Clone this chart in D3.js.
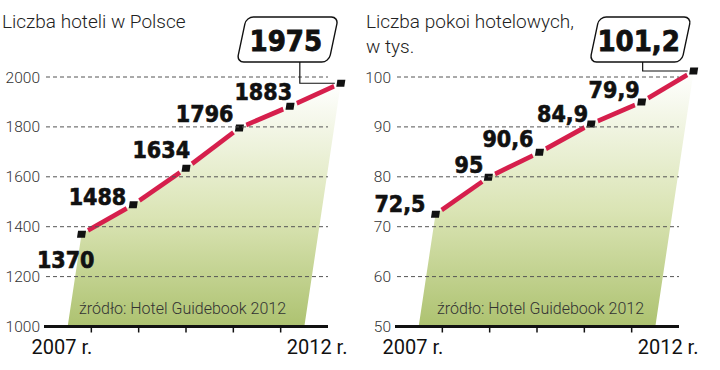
<!DOCTYPE html>
<html>
<head>
<meta charset="utf-8">
<script src="https://cdn.jsdelivr.net/npm/d3@7"></script>
<style>
  body { margin: 0; background: #fff; }
  .title { font-family: Roboto, "Liberation Sans", sans-serif; font-weight: 300; font-size: 19px; fill: #222; }
  .tickLabel { font-family: Roboto, "Liberation Sans", sans-serif; font-weight: 300; font-size: 15.5px; fill: #333; }
  .yearLabel { font-family: Roboto, "Liberation Sans", sans-serif; font-weight: 400; font-size: 20px; fill: #111; }
  .source { font-family: Roboto, "Liberation Sans", sans-serif; font-weight: 300; font-size: 16px; fill: #333; }
  .valueLabel { font-family: "DejaVu Sans Condensed", "DejaVu Sans", sans-serif; font-stretch: condensed; font-weight: bold; font-size: 23px; fill: #111; stroke: #111; stroke-width: 0.6; }
  .calloutLabel { font-size: 29px; stroke-width: 0.8; }
  .grid { stroke: #555; stroke-width: 1; stroke-dasharray: 4 3; }
</style>
</head>
<body>
<div id="chart"></div>
<script>
// data
const years = [2007, 2008, 2009, 2010, 2011, 2012];
const hotels = [1370, 1488, 1634, 1796, 1883, 1975];
const hotelLabels = ["1370", "1488", "1634", "1796", "1883", "1975"];
const hotelTicks = [1000, 1200, 1400, 1600, 1800, 2000];
const rooms = [72.5, 79.9, 84.9, 90.6, 95, 101.2];
const roomLabels = ["72,5", "95", "90,6", "84,9", "79,9", "101,2"];
const roomTicks = [50, 60, 70, 80, 90, 100];
const source = "źródło: Hotel Guidebook 2012";

const width = 720, height = 370;
const svg = d3.select("#chart").append("svg")
    .attr("width", width)
    .attr("height", height);

const grad = svg.append("defs").append("linearGradient")
    .attr("id", "fillGrad")
    .attr("x1", 0).attr("x2", 0).attr("y1", 1).attr("y2", 0);
grad.append("stop").attr("offset", "0%").attr("stop-color", "#adc270");
grad.append("stop").attr("offset", "45%").attr("stop-color", "#dae4b4");
grad.append("stop").attr("offset", "100%").attr("stop-color", "#ffffff");

const SKEW = 0.15;   // the plot is drawn leaning to the right

/**
 * Draws one panel: titles, grid, skewed area + line, labels and callout
 */
function drawPanel(opt) {
    const base = 326.5, top = 77;
    const y = d3.scaleLinear().domain(d3.extent(opt.ticks)).range([base, top]);
    const x = d3.scaleBand().domain(opt.years).range([opt.x0, opt.x1]);
    const cx = (d) => x(d) + x.bandwidth() / 2;
    // screen position of a data point once the skew is applied
    const sx = (xx, yy) => xx + SKEW * (base - yy);

    const g = svg.append("g");

    // title
    const title = g.append("text").attr("class", "title").attr("x", opt.titleX).attr("y", 28);
    opt.title.forEach((t, i) => {
        title.append("tspan").attr("x", opt.titleX).attr("dy", i == 0 ? 0 : 25).text(t);
    });

    // skewed area
    const skewDeg = -Math.atan(SKEW) * 180 / Math.PI;
    const sk = g.append("g")
        .attr("transform", `translate(0,${base}) skewX(${skewDeg}) translate(0,${-base})`);

    const area = d3.area()
        .x((d, i) => cx(opt.years[i]))
        .y0(base)
        .y1((d) => y(d));
    sk.append("path")
        .datum(opt.values)
        .attr("d", area)
        .attr("fill", "url(#fillGrad)");

    // grid lines (over the fill)
    g.selectAll(".grid")
        .data(opt.ticks.slice(1))
        .enter().append("line")
        .attr("class", "grid")
        .attr("x1", opt.x0 + 2).attr("x2", opt.x1)
        .attr("y1", (d) => y(d)).attr("y2", (d) => y(d));

    g.selectAll(".tickLabel")
        .data(opt.ticks)
        .enter().append("text")
        .attr("class", "tickLabel")
        .attr("x", opt.x0 - 4)
        .attr("y", (d) => y(d) + 5.5)
        .attr("text-anchor", "end")
        .text((d) => d);

    // baseline axis
    g.append("line")
        .attr("x1", opt.x0).attr("x2", opt.x1)
        .attr("y1", base).attr("y2", base)
        .style("stroke", "#111").style("stroke-width", 3);

    g.selectAll(".xtick")
        .data(opt.years.slice(1))
        .enter().append("line")
        .attr("class", "xtick")
        .attr("x1", (d) => x(d)).attr("x2", (d) => x(d))
        .attr("y1", base).attr("y2", base + 6)
        .style("stroke", "#111").style("stroke-width", 1.5);

    const first = opt.years[0], last = opt.years[opt.years.length - 1];
    g.append("text").attr("class", "yearLabel")
        .attr("x", x(opt.years[1]) + 1).attr("y", 354)
        .attr("text-anchor", "end")
        .text(first + " r.");
    g.append("text").attr("class", "yearLabel")
        .attr("x", x(last) + 6).attr("y", 354)
        .text(last + " r.");

    // source
    g.append("text").attr("class", "source")
        .attr("x", opt.sourceX).attr("y", 314)
        .text(source);

    // red line, broken around the markers
    const pts = opt.values.map((v, i) => [cx(opt.years[i]), y(v)]);
    const gap = 7;
    const segs = d3.pairs(pts).map(([a, b]) => {
        const dx = b[0] - a[0], dy = b[1] - a[1];
        const len = Math.sqrt(dx * dx + dy * dy);
        const ux = dx / len, uy = dy / len;
        return [[a[0] + ux * gap, a[1] + uy * gap], [b[0] - ux * gap, b[1] - uy * gap]];
    });
    sk.selectAll(".seg")
        .data(segs)
        .enter().append("line")
        .attr("class", "seg")
        .attr("x1", (d) => d[0][0]).attr("y1", (d) => d[0][1])
        .attr("x2", (d) => d[1][0]).attr("y2", (d) => d[1][1])
        .style("stroke", "#d61f4c").style("stroke-width", 5);

    sk.selectAll(".marker")
        .data(pts)
        .enter().append("rect")
        .attr("class", "marker")
        .attr("x", (d) => d[0] - 4).attr("y", (d) => d[1] - 3.5)
        .attr("width", 8).attr("height", 7)
        .attr("fill", "#111");

    // value labels (upright text next to the skewed points)
    const n = opt.values.length;
    g.selectAll(".valueLabel")
        .data(opt.labels.slice(0, n - 1))
        .enter().append("text")
        .attr("class", "valueLabel")
        .attr("text-anchor", "end")
        .attr("x", (d, i) => sx(pts[i][0], pts[i][1]) + opt.offsets[i][0])
        .attr("y", (d, i) => pts[i][1] + opt.offsets[i][1])
        .text((d) => d);

    // callout for the last value
    const lx = sx(pts[n - 1][0], pts[n - 1][1]), ly = pts[n - 1][1];
    const bw = 92, bh = 45, bx = lx - 58 - bw / 2, by = 17;
    const box = g.append("g")
        .attr("transform", `translate(0,${by + bh}) skewX(${skewDeg * 1.4}) translate(0,${-(by + bh)})`);
    box.append("rect")
        .attr("x", bx).attr("y", by)
        .attr("width", bw).attr("height", bh)
        .attr("rx", 7)
        .attr("fill", "#fff").attr("stroke", "#111").attr("stroke-width", 1.4);
    g.append("path")
        .attr("d", `M${bx + bw / 2 + opt.leader},${by + bh} V${ly} H${lx - 6}`)
        .attr("fill", "none").attr("stroke", "#111").attr("stroke-width", 1.2);
    g.append("text")
        .attr("class", "valueLabel calloutLabel")
        .attr("x", bx + bw / 2 + 3).attr("y", by + bh / 2 + 11)
        .attr("text-anchor", "middle")
        .text(opt.labels[n - 1]);
}

drawPanel({
    title: ["Liczba hoteli w Polsce"], titleX: 2,
    years: years, values: hotels, labels: hotelLabels, ticks: hotelTicks,
    x0: 44, x1: 328, sourceX: 79,
    offsets: [[13, 34], [-7, 0], [4, -10], [-6, -6], [2, -6]],
    leader: 17
});

drawPanel({
    title: ["Liczba pokoi hotelowych,", "w tys."], titleX: 366,
    years: years, values: rooms, labels: roomLabels, ticks: roomTicks,
    x0: 395, x1: 679, sourceX: 437,
    offsets: [[-10, -2], [-5, -4], [-6, -5], [-3, -2], [-2, -4]],
    leader: 7
});
</script>
</body>
</html>
